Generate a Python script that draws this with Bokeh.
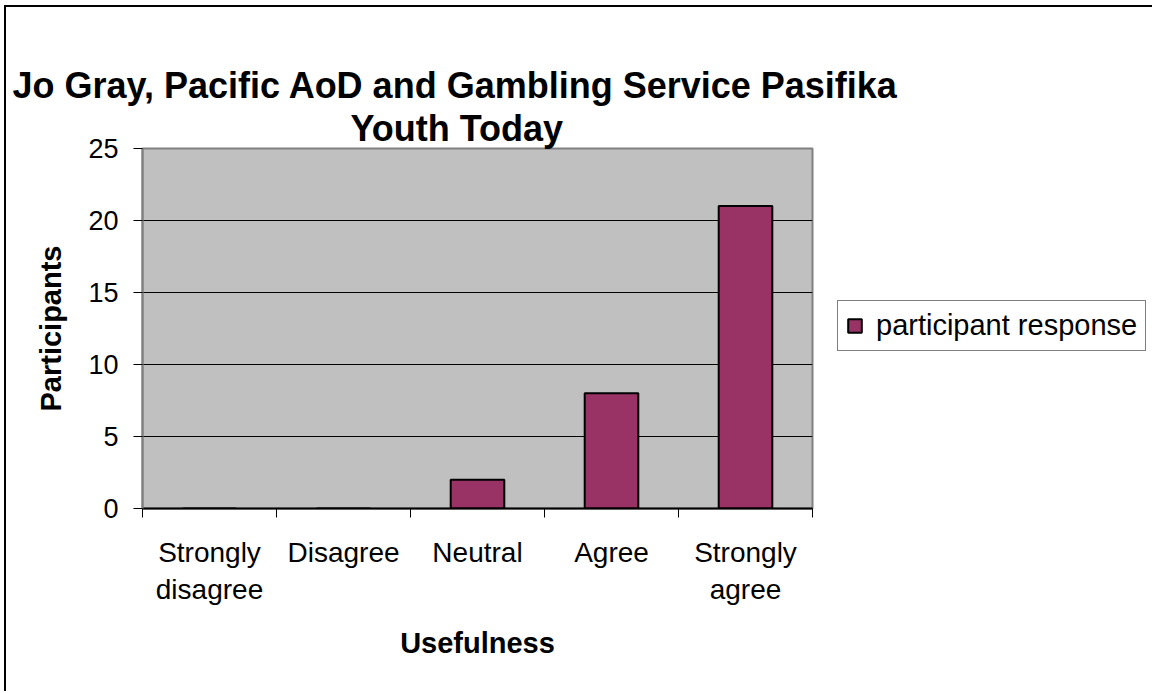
from bokeh.plotting import figure
from bokeh.layouts import column, row
from bokeh.models import ColumnDataSource, FixedTicker, Legend, LegendItem, Title, Range1d, Spacer, Div
from bokeh.embed import file_html
from bokeh.resources import INLINE

categories = ["Strongly\ndisagree", "Disagree", "Neutral", "Agree", "Strongly\nagree"]
participants = [0, 0, 2, 8, 21]
y_ticks = [0, 5, 10, 15, 20, 25]
series_name = "participant response"
title_line1 = "Jo Gray, Pacific AoD and Gambling Service Pasifika"
title_line2 = "Youth Today"
x_title = "Usefulness"
y_title = "Participants"

FONT = "Liberation Sans"
centers = [i + 0.5 for i in range(len(categories))]
bounds = list(range(len(categories) + 1))
src = ColumnDataSource(dict(x=centers, top=participants))

X0, Y0 = 6, 7   # where the chart canvas starts inside the outer border
p = figure(frame_width=670, frame_height=360,
           x_range=Range1d(0, len(categories)), y_range=Range1d(0, 25),
           output_backend="svg", toolbar_location=None,
           min_border_left=142 - X0, min_border_top=148 - Y0,
           min_border_bottom=690 - 508, min_border_right=1150 - 812 - X0)

p.background_fill_color = "#c0c0c0"
p.border_fill_color = "white"
p.outline_line_color = "#808080"
p.outline_line_width = 2

r = p.vbar(x="x", top="top", width=0.4, source=src, fill_color="#993366",
           line_color="black", line_width=2)

# grid
p.xgrid.grid_line_color = None
p.ygrid.ticker = FixedTicker(ticks=y_ticks[1:-1])
p.ygrid.grid_line_color = "black"
p.ygrid.grid_line_width = 1

# x axis
xa = p.xaxis[0]
xa.ticker = FixedTicker(ticks=centers, minor_ticks=bounds)
xa.major_label_overrides = {c: lab for c, lab in zip(centers, categories)}
xa.major_tick_out = 0
xa.major_tick_in = 0
xa.major_tick_line_color = None
xa.minor_tick_out = 9
xa.minor_tick_in = 0
xa.minor_tick_line_color = "black"
xa.axis_line_color = "black"
xa.axis_line_width = 2
xa.major_label_standoff = 19
xa.major_label_text_font = FONT
xa.major_label_text_font_size = "28px"
xa.major_label_text_color = "black"
xa.axis_label = x_title
xa.axis_label_text_font = FONT
xa.axis_label_text_font_size = "29px"
xa.axis_label_text_font_style = "bold"
xa.axis_label_text_color = "black"
xa.axis_label_standoff = 19

# y axis
ya = p.yaxis[0]
ya.ticker = FixedTicker(ticks=y_ticks)
ya.major_tick_out = 9
ya.major_tick_in = 0
ya.major_tick_line_color = "black"
ya.minor_tick_line_color = None
ya.axis_line_color = "#808080"
ya.axis_line_width = 2
ya.major_label_standoff = 15
ya.major_label_text_font = FONT
ya.major_label_text_font_size = "27px"
ya.major_label_text_color = "black"
ya.axis_label = y_title
ya.axis_label_text_font = FONT
ya.axis_label_text_font_size = "29px"
ya.axis_label_text_font_style = "bold"
ya.axis_label_text_color = "black"
ya.axis_label_standoff = 18

# titles (the later-added title sits nearer the frame)
p.title.text = title_line1
p.title.align = "left"
p.title.offset = -130
p.title.text_font = FONT
p.title.text_font_size = "36px"
p.title.text_font_style = "bold"
p.title.text_color = "black"
p.title.standoff = 0
t2 = Title(text=title_line2, align="left", offset=208, text_font=FONT, text_color="black",
           text_font_size="36px", text_font_style="bold", standoff=0)
p.add_layout(t2, "above")

# legend
legend = Legend(items=[LegendItem(label=series_name, renderers=[r])],
                location=(25, 157), orientation="vertical",
                border_line_color="black", border_line_width=1.5,
                background_fill_color="white", background_fill_alpha=1,
                padding=8, margin=0, spacing=0,
                glyph_width=17, glyph_height=17, label_standoff=13,
                label_text_font=FONT, label_text_font_size="29px",
                label_text_color="black")
p.add_layout(legend, "right")


# outer chart border (only its left and top edges fall inside the picture)
def border_strip(w, h):
    return Div(text="", width=w, height=h,
               styles={"background-color": "black", "padding": "0", "margin": "0"})


top_strip = border_strip(1148, 2)
left_strip = border_strip(2, 684)

page = column(Spacer(height=5),
              row(Spacer(width=4),
                  column(top_strip, row(left_strip, p, spacing=0), spacing=0),
                  spacing=0),
              spacing=0)

open("out.html", "w").write(file_html(page, INLINE))
